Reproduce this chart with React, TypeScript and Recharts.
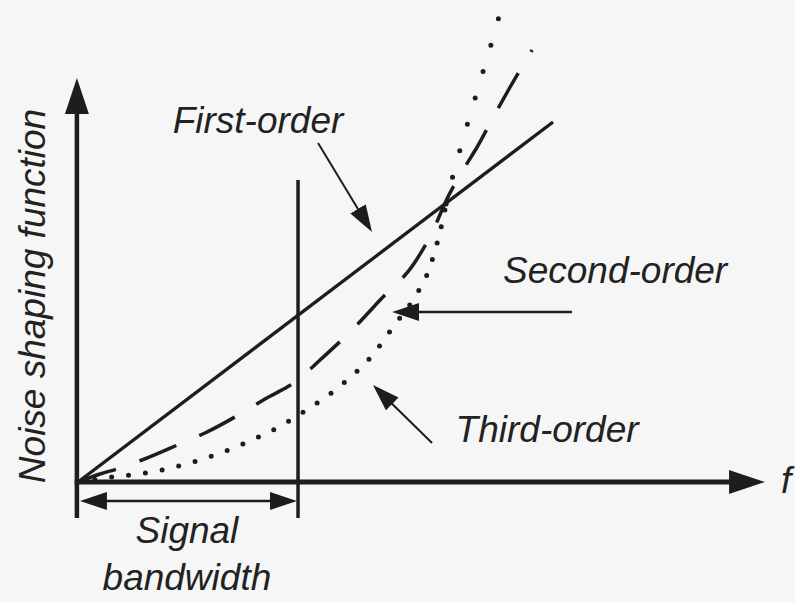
import React from 'react';
import { LineChart, Line, XAxis, YAxis, ReferenceLine, ReferenceDot } from 'recharts';

// Frequency in units of the signal bandwidth; noise shaping magnitude in arbitrary units
const firstOrderF = [0, 2.159];
const firstOrderN = [0, 3.6];

const secondOrderF = [0, 0.1, 0.177, 0.291, 0.473, 0.577, 0.745, 0.85, 1.0, 1.1, 1.236, 1.373, 1.532, 1.623, 1.668, 1.75, 1.814, 1.905, 1.964, 2.064];
const secondOrderN = [0, 0.08, 0.13, 0.22, 0.39, 0.49, 0.69, 0.83, 1.02, 1.22, 1.5, 1.82, 2.2, 2.56, 2.79, 3.12, 3.35, 3.72, 3.95, 4.32];

const thirdOrderF = [0, 0.155, 0.305, 0.459, 0.609, 0.759, 0.895, 1.032, 1.218, 1.327, 1.432, 1.555, 1.591, 1.618, 1.645, 1.673, 1.7, 1.736, 1.809, 1.882, 1.918];
const thirdOrderN = [0, 0.05, 0.09, 0.16, 0.26, 0.39, 0.53, 0.71, 1.01, 1.24, 1.55, 1.94, 2.1, 2.28, 2.5, 2.78, 3.03, 3.32, 3.87, 4.41, 4.69];

// frequency where the three curves meet (dot spacing of the dotted curve widens above it)
const crossingF = 1.673;
const bandwidthF = 1;

const labels = {
  y: 'Noise shaping function',
  x: 'f',
  first: 'First-order',
  second: 'Second-order',
  third: 'Third-order',
  bw1: 'Signal',
  bw2: 'bandwidth',
};

const rows = (fs: number[], ns: number[]) => fs.map((f, i) => ({ f, n: ns[i] }));
const thirdRows = rows(thirdOrderF, thirdOrderN);
const thirdLower = thirdRows.filter((r) => r.f <= crossingF);
const thirdUpper = thirdRows.filter((r) => r.f >= crossingF);

const INK = '#1d1d1d';
const TEXT = '#222222';
const FONT = '"Liberation Sans", Arial, Helvetica, sans-serif';

const textShape = (value: string, anchor: 'start' | 'middle' | 'end' = 'middle', rotate = 0) => (p: any) => (
  <text
    x={p.cx}
    y={p.cy}
    textAnchor={anchor}
    fontFamily={FONT}
    fontStyle="italic"
    fontSize={37}
    fill={TEXT}
    transform={rotate ? `rotate(${rotate} ${p.cx} ${p.cy})` : undefined}
  >
    {value}
  </text>
);

export default function App() {
  return (
    <div style={{ position: 'absolute', left: 0, top: 0, width: 795, height: 602, background: '#f6f6f6' }}>
      <LineChart width={795} height={602} margin={{ top: 10, right: 25, bottom: 120, left: 78 }}>
        <defs>
          <marker id="headBig" markerUnits="userSpaceOnUse" markerWidth={36} markerHeight={24} refX={26} refY={12} orient="auto">
            <path d="M0,0 L36,12 L0,24 Z" fill={INK} />
          </marker>
          <marker id="headSmall" markerUnits="userSpaceOnUse" markerWidth={27} markerHeight={18} refX={21} refY={9} orient="auto-start-reverse">
            <path d="M0,0 L27,9 L0,18 Z" fill={INK} />
          </marker>
        </defs>
        <XAxis type="number" dataKey="f" domain={[0, 3.145]} allowDataOverflow hide />
        <YAxis type="number" dataKey="n" domain={[0, 4.72]} allowDataOverflow hide />

        {/* axes */}
        <ReferenceLine
          ifOverflow="visible"
          segment={[{ x: -0.005, y: -0.36 }, { x: -0.005, y: 3.94 }]}
          stroke={INK}
          strokeWidth={4.5}
          markerEnd="url(#headBig)"
        />
        <ReferenceLine
          ifOverflow="visible"
          segment={[{ x: -0.015, y: 0 }, { x: 3.077, y: 0 }]}
          stroke={INK}
          strokeWidth={5}
          markerEnd="url(#headBig)"
        />
        {/* signal bandwidth */}
        <ReferenceLine
          ifOverflow="visible"
          segment={[{ x: bandwidthF, y: -0.36 }, { x: bandwidthF, y: 3.02 }]}
          stroke={INK}
          strokeWidth={3.5}
        />
        <ReferenceLine
          ifOverflow="visible"
          segment={[{ x: 0.036, y: -0.19 }, { x: 0.968, y: -0.19 }]}
          stroke={INK}
          strokeWidth={2.5}
          markerStart="url(#headSmall)"
          markerEnd="url(#headSmall)"
        />

        <Line data={rows(firstOrderF, firstOrderN)} dataKey="n" type="linear" stroke={INK} strokeWidth={3.3} dot={false} isAnimationActive={false} />
        <Line data={rows(secondOrderF, secondOrderN)} dataKey="n" type="monotone" stroke={INK} strokeWidth={3.5} strokeDasharray="40 25" dot={false} isAnimationActive={false} />
        <Line data={thirdLower} dataKey="n" type="monotone" stroke={INK} strokeWidth={5} strokeLinecap="round" strokeDasharray="0 17" dot={false} isAnimationActive={false} />
        <Line data={thirdUpper} dataKey="n" type="monotone" stroke={INK} strokeWidth={5} strokeLinecap="round" strokeDasharray="0 27.5" dot={false} isAnimationActive={false} />

        {/* annotation arrows */}
        <ReferenceLine ifOverflow="visible" segment={[{ x: 1.091, y: 3.39 }, { x: 1.322, y: 2.551 }]} stroke={INK} strokeWidth={2} markerEnd="url(#headSmall)" />
        <ReferenceLine ifOverflow="visible" segment={[{ x: 2.245, y: 1.7 }, { x: 1.455, y: 1.7 }]} stroke={INK} strokeWidth={2.5} markerEnd="url(#headSmall)" />
        <ReferenceLine ifOverflow="visible" segment={[{ x: 1.609, y: 0.39 }, { x: 1.36, y: 0.928 }]} stroke={INK} strokeWidth={2} markerEnd="url(#headSmall)" />

        {/* texts */}
        <ReferenceDot ifOverflow="visible" x={0.818} y={3.49} r={0} shape={textShape(labels.first)} />
        <ReferenceDot ifOverflow="visible" x={2.441} y={1.99} r={0} shape={textShape(labels.second)} />
        <ReferenceDot ifOverflow="visible" x={2.132} y={0.4} r={0} shape={textShape(labels.third)} />
        <ReferenceDot ifOverflow="visible" x={3.195} y={-0.11} r={0} shape={textShape(labels.x, 'start')} />
        <ReferenceDot ifOverflow="visible" x={0.495} y={-0.61} r={0} shape={textShape(labels.bw1)} />
        <ReferenceDot ifOverflow="visible" x={0.495} y={-1.08} r={0} shape={textShape(labels.bw2)} />
        <ReferenceDot ifOverflow="visible" x={-0.15} y={1.86} r={0} shape={textShape(labels.y, 'middle', -90)} />
      </LineChart>
    </div>
  );
}
